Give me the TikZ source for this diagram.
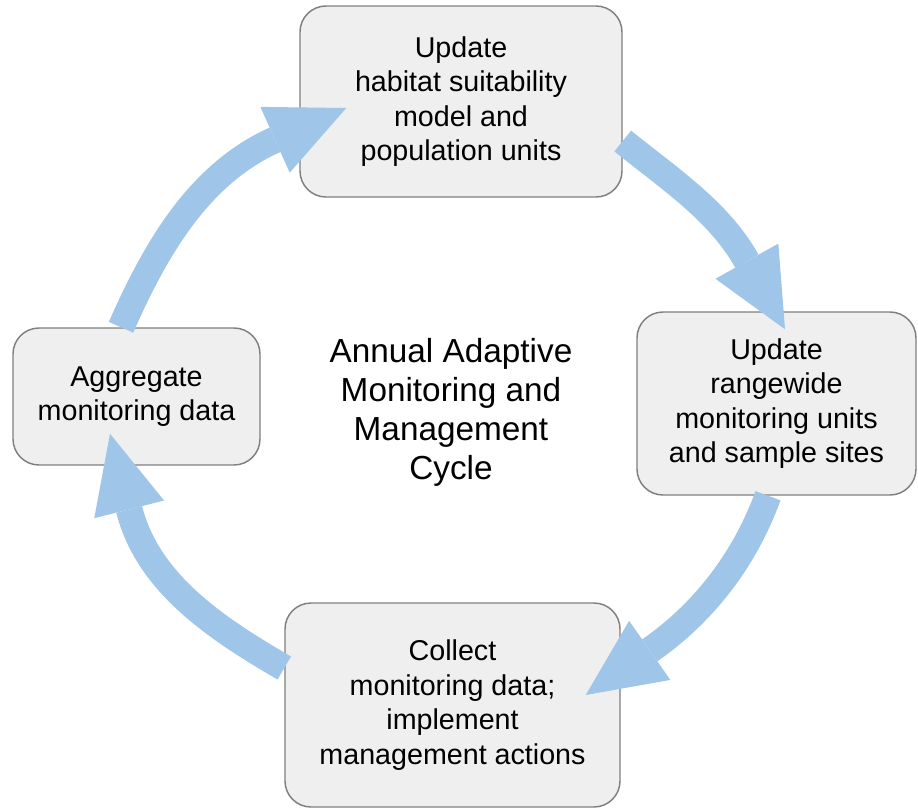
\documentclass[tikz,border=0pt]{standalone}
\usepackage{fontspec}
\setmainfont{Liberation Sans}
\usetikzlibrary{arrows.meta,calc}
\definecolor{boxfill}{HTML}{EFEFEF}
\definecolor{boxline}{HTML}{808080}
\definecolor{flowblue}{HTML}{9FC5E8}
\begin{document}
\begin{tikzpicture}[x=0.75pt,y=-0.75pt,
  stagebox/.style={draw=boxline,line width=1.1pt,fill=boxfill,rounded corners=19.5pt,
    align=center,inner sep=0pt,
    font=\fontsize{21.5pt}{25.9pt}\selectfont},
  flow/.style={draw=flowblue,line width=20pt,line cap=butt,
    -{Triangle[length=58.5pt,width=54pt,line width=0pt,fill=flowblue]}},
  title/.style={align=center,font=\fontsize{25pt}{29.3pt}\selectfont}]
\useasboundingbox (0,0) rectangle (918,808);

% the four stages of the cycle
\node[stagebox,minimum width=241.5pt,minimum height=143.25pt] (hsm) at (461,101.5)
  {Update\\habitat suitability\\model and\\population units};
\node[stagebox,minimum width=209.25pt,minimum height=137.25pt] (rng) at (776.5,403.5)
  {Update\\rangewide\\monitoring units\\and sample sites};
\node[stagebox,minimum width=251.25pt,minimum height=153pt] (col) at (452.5,705)
  {Collect\\monitoring data;\\implement\\management actions};
\node[stagebox,minimum width=185.25pt,minimum height=102.75pt] (agg) at (136.5,396.5)
  {Aggregate\\monitoring data};

% centre caption
\node[title] (cap) at (451,412) {Annual Adaptive\\Monitoring and\\Management\\Cycle};

% tails and tips of the curved flow arrows
\coordinate (a1s) at ($(agg.north)+(-15.5,0)$);
\coordinate (a1t) at ($(hsm.west)+(47,6.5)$);
\coordinate (a2s) at ($(hsm.east)+(0,39.5)$);
\coordinate (a2t) at ($(rng.north)+(8.5,18)$);
\coordinate (a3s) at ($(rng.south)+(-8.5,0)$);
\coordinate (a3t) at ($(col.east)+(-35,-10)$);
\coordinate (a4s) at ($(col.west)+(0,-37)$);
\coordinate (a4t) at ($(agg.south)+(-26.5,-32)$);

\draw[flow] (a1s) .. controls +(34,-77) and +(-148,66) .. (a1t);
\draw[flow] (a2s) .. controls +(47,38) and +(-66,-118) .. (a2t);
\draw[flow] (a3s) .. controls +(-23,63) and +(119,-83) .. (a3t);
\draw[flow] (a4s) .. controls +(-67,-39) and +(38,150) .. (a4t);
\end{tikzpicture}
\end{document}
